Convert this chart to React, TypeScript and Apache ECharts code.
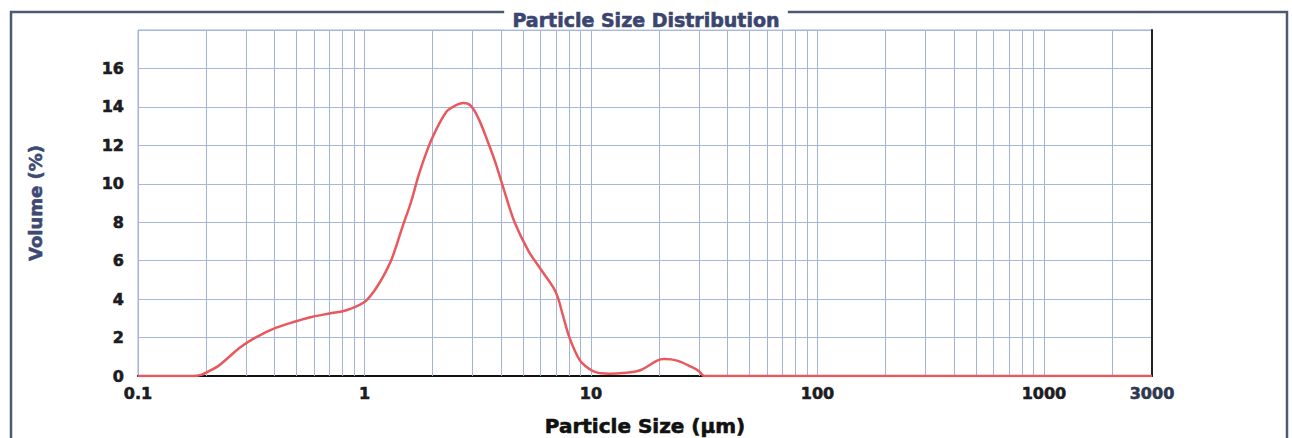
import React, { useEffect, useRef } from "react";
import * as echarts from "echarts";

const sizes = [0.1, 0.15, 0.175, 0.19, 0.2, 0.225, 0.25, 0.283, 0.33, 0.405, 0.5, 0.584, 0.7, 0.832, 1.0, 1.1, 1.2, 1.32, 1.47, 1.6, 1.74, 1.9, 2.04, 2.3, 2.5, 2.73, 2.95, 3.2, 3.5, 3.76, 4.2, 4.6, 5.3, 6.0, 6.97, 7.5, 7.98, 8.5, 9.1, 10.5, 12, 13.8, 16.5, 19.6, 21, 24, 27.8, 30, 31.7, 40, 3000];
const volumes = [0, 0, 0, 0.06, 0.18, 0.5, 0.95, 1.5, 2.0, 2.5, 2.85, 3.07, 3.25, 3.42, 3.85, 4.4, 5.1, 6.1, 7.75, 9.0, 10.5, 11.8, 12.65, 13.75, 14.05, 14.2, 14.05, 13.35, 12.2, 11.2, 9.4, 8.0, 6.5, 5.55, 4.4, 3.2, 2.1, 1.3, 0.7, 0.2, 0.12, 0.15, 0.3, 0.8, 0.88, 0.8, 0.47, 0.25, 0, 0, 0];

const gridSizes = [0.1, 0.2, 0.3, 0.4, 0.5, 0.6, 0.7, 0.8, 0.9, 1, 2, 3, 4, 5, 6, 7, 8, 9, 10, 20, 30, 40, 50, 60, 70, 80, 90, 100, 200, 300, 400, 500, 600, 700, 800, 900, 1000, 2000];
const xTickLabels = [0.1, 1, 10, 100, 1000];
const xEndLabel = 3000;
const yTicks = [0, 2, 4, 6, 8, 10, 12, 14, 16];

const titleText = "Particle Size Distribution";
const xName = "Particle Size (µm)";
const yName = "Volume (%)";

export default function App() {
  const ref = useRef<HTMLDivElement>(null);
  useEffect(() => {
    if (!ref.current) return;
    const chart = echarts.init(ref.current, null, { renderer: "svg" });
    const font = "'DejaVu Sans', 'Liberation Sans', Arial, sans-serif";
    const labelStyle = {
      fontFamily: font,
      fontWeight: 900 as any,
      fontSize: 16,
      color: "#1c1c22",
      textBorderColor: "#1c1c22",
      textBorderWidth: 0.6,
    };
    chart.setOption({
      animation: false,
      backgroundColor: "#fff",
      title: {
        text: titleText,
        left: "center",
        top: 10,
        padding: [0, 8],
        backgroundColor: "#fff",
        textStyle: {
          fontFamily: font,
          fontWeight: 900,
          fontSize: 19,
          color: "#3a4670",
          textBorderColor: "#3a4670",
          textBorderWidth: 0.6,
        },
      },
      graphic: [
        {
          type: "rect",
          shape: { x: 11, y: 12, width: 1276, height: 440 },
          style: { fill: "none", stroke: "#4d5874", lineWidth: 2.5 },
          z: -1,
        },
      ],
      grid: {
        left: 138,
        right: 140,
        top: 30,
        bottom: 62,
        outerBoundsMode: "none",
        containLabel: false,
        show: true,
        borderColor: "#9fb0d6",
        borderWidth: 1,
      },
      xAxis: {
        type: "log",
        logBase: 10,
        min: 0.1,
        max: 3000,
        name: xName,
        nameLocation: "middle",
        nameGap: 40,
        nameTextStyle: {
          fontFamily: font,
          fontWeight: 900,
          fontSize: 20,
          color: "#111",
          textBorderColor: "#111",
          textBorderWidth: 0.6,
        },
        axisLine: { show: true, lineStyle: { color: "#111", width: 2 } },
        axisTick: { show: false },
        splitLine: { show: false },
        axisLabel: {
          ...labelStyle,
          margin: 9,
          formatter: (v: number) => (xTickLabels.some((t) => Math.abs(t - v) / t < 1e-6) ? String(v) : ""),
        },
      },
      yAxis: [
        {
          type: "value",
          min: 0,
          max: 18,
          interval: 2,
          name: yName,
          nameLocation: "middle",
          nameGap: 94,
          nameTextStyle: {
            fontFamily: font,
            fontWeight: 900,
            fontSize: 18,
            color: "#3d4a73",
            textBorderColor: "#3d4a73",
            textBorderWidth: 0.6,
          },
          axisLine: { show: false },
          axisTick: { show: false },
          splitLine: { show: true, lineStyle: { color: "#a9b7dc", width: 1 } },
          axisLabel: {
            ...labelStyle,
            margin: 14,
            formatter: (v: number) => (yTicks.includes(v) ? String(v) : ""),
          },
        },
        {
          type: "value",
          min: 0,
          max: 18,
          interval: 2,
          position: "right",
          axisLine: { show: true, lineStyle: { color: "#222", width: 2 } },
          axisTick: { show: false },
          axisLabel: { show: false },
          splitLine: { show: false },
        },
      ],
      series: [
        {
          type: "line",
          name: "grid",
          data: [],
          silent: true,
          markLine: {
            silent: true,
            symbol: "none",
            animation: false,
            label: { show: false },
            lineStyle: { color: "#a4b3da", width: 1, type: "solid" },
            data: [
              ...gridSizes.map((v) => ({ xAxis: v })),
              {
                xAxis: xEndLabel,
                lineStyle: { color: "#222", width: 0 },
                label: {
                  show: true,
                  position: "start",
                  distance: 9,
                  formatter: String(xEndLabel),
                  ...labelStyle,
                  color: "#2e3850",
                  textBorderColor: "#2e3850",
                },
              },
            ],
          },
        },
        {
          type: "line",
          name: "Volume",
          data: sizes.map((s, i) => [s, volumes[i]]),
          showSymbol: false,
          smooth: 0.35,
          lineStyle: { color: "#e8585c", width: 2.5 },
          z: 5,
        },
      ],
    });
    return () => chart.dispose();
  }, []);
  return <div ref={ref} style={{ position: "fixed", left: 0, top: 0, width: 1292, height: 438 }} />;
}
